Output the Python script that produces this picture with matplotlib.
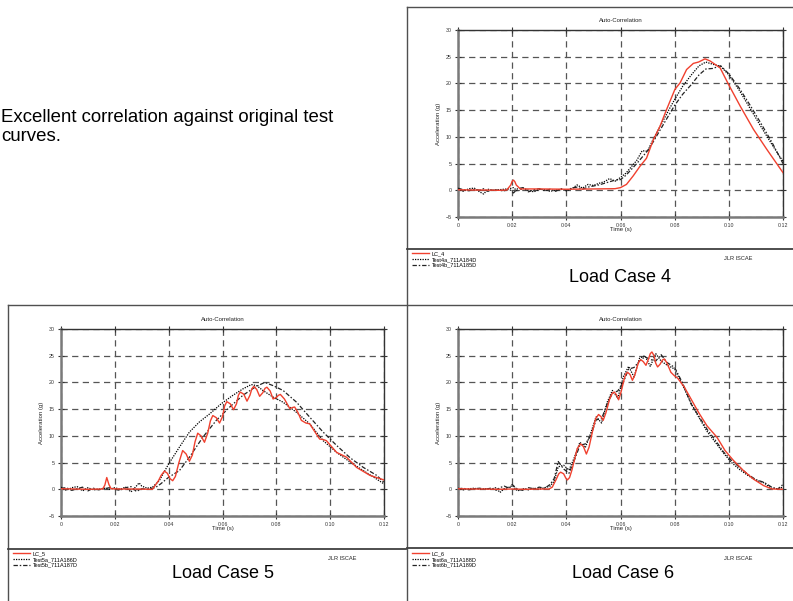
import matplotlib.pyplot as plt
import numpy as np

plt.rcParams['font.family'] = ['Liberation Sans', 'DejaVu Sans']

W, H = 793, 601

# ---- Load Case 4 ----
t_lc4 = [0, 0.005, 0.01, 0.015, 0.018, 0.0195, 0.0200, 0.0205, 0.0210, 0.0215, 0.023, 0.03, 0.04,
         0.05, 0.058, 0.06, 0.0622, 0.0647, 0.0672, 0.0696, 0.072, 0.0746, 0.077, 0.0801, 0.082,
         0.0844, 0.0869, 0.0888, 0.0912, 0.0931, 0.0968, 0.0999, 0.1042, 0.1091, 0.1141, 0.12]
y_lc4 = [0.1, 0.05, 0.05, 0.0, 0.05, 1.0, 1.7, 1.9, 1.6, 1.0, 0.25, 0.25, 0.2,
         0.25, 0.3, 0.5, 1.1, 2.7, 4.5, 6.0, 9.3, 12.0, 15.1, 18.9, 20.1,
         22.6, 23.75, 24.0, 24.6, 24.2, 22.9, 19.8, 15.75, 11.4, 7.6, 3.3]

t_test4 = [0, 0.002, 0.004, 0.006, 0.008, 0.0095, 0.011, 0.013, 0.015, 0.017, 0.019, 0.0205, 0.022,
           0.024, 0.026, 0.028, 0.030, 0.032, 0.034, 0.036, 0.038, 0.040, 0.042, 0.044, 0.046, 0.048,
           0.050, 0.052, 0.054, 0.056, 0.058, 0.060, 0.062, 0.064, 0.066, 0.068, 0.070, 0.072, 0.075,
           0.078, 0.080, 0.083, 0.086, 0.089, 0.0915, 0.094, 0.097, 0.100, 0.104, 0.108, 0.112, 0.116, 0.12]
y_test4a = [0.3, -0.2, 0.3, 0.4, -0.3, -0.7, 0.2, 0.0, 0.1, 0.2, 0.3, 0.5, -0.2,
            0.4, 0.0, -0.3, 0.2, 0.1, -0.2, 0.0, 0.2, -0.1, 0.3, 1.0, 0.4, 1.1,
            0.9, 1.3, 1.6, 2.2, 1.7, 2.4, 3.2, 4.4, 5.6, 7.4, 7.3, 9.5, 12.3,
            15.2, 17.0, 19.5, 21.5, 23.3, 24.0, 23.6, 23.2, 21.6, 18.6, 15.2, 11.8, 8.5, 5.4]
y_test4b = [0.4, 0.1, -0.1, 0.2, 0.0, 0.3, -0.2, 0.1, 0.0, -0.1, 0.2, -0.5, 0.3,
            0.5, -0.3, 0.1, 0.3, -0.1, 0.2, -0.2, 0.3, 0.0, 0.4, 0.6, 0.2, 0.6,
            0.8, 1.0, 1.3, 1.6, 1.9, 2.0, 2.8, 3.9, 5.0, 6.2, 7.4, 9.0, 11.6,
            14.2, 15.9, 18.0, 19.7, 21.6, 22.7, 22.8, 23.3, 21.8, 19.0, 15.8, 12.4, 8.9, 5.0]

# ---- Load Case 5 ----
t_lc5 = [0, 0.005, 0.01, 0.0155, 0.0163, 0.0170, 0.0178, 0.0186, 0.022, 0.028, 0.034, 0.0362,
         0.0372, 0.0384, 0.0395, 0.0405, 0.0415, 0.0425, 0.0438, 0.0452, 0.0465, 0.0477, 0.0488,
         0.0498, 0.0508, 0.0520, 0.0533, 0.0545, 0.0555, 0.0564, 0.0577, 0.0589, 0.0600, 0.0608,
         0.0616, 0.0629, 0.0641, 0.0652, 0.0659, 0.0666, 0.0679, 0.0691, 0.0702, 0.0709, 0.0716,
         0.0727, 0.0738, 0.0750, 0.0758, 0.0765, 0.0777, 0.0788, 0.0800, 0.0808, 0.0815, 0.0830,
         0.0850, 0.0860, 0.0868, 0.0880, 0.0893, 0.0910, 0.0924, 0.0940, 0.0961, 0.0975, 0.0986,
         0.1005, 0.1024, 0.1045, 0.1061, 0.1098, 0.1148, 0.12]
y_lc5 = [0.1, 0.05, 0.0, 0.05, 0.8, 2.2, 0.9, 0.1, 0.05, 0.05, 0.0, 1.6,
         2.6, 3.4, 3.0, 2.0, 1.6, 2.4, 5.0, 7.25, 6.6, 5.25, 6.4,
         8.9, 10.5, 10.0, 8.8, 10.5, 12.8, 13.8, 13.4, 12.4, 13.6, 15.6,
         16.4, 16.0, 14.9, 16.0, 17.6, 18.2, 17.8, 16.5, 17.6, 18.8, 19.25,
         18.7, 17.4, 18.1, 18.9, 19.1, 18.4, 16.9, 17.2, 17.6, 17.75, 16.9,
         15.1, 15.3, 15.4, 14.4, 12.9, 12.4, 12.25, 11.0, 9.4, 9.3, 9.1,
         8.0, 6.9, 6.4, 6.0, 4.1, 2.6, 1.75]

t_test5a = [0, 0.002, 0.004, 0.006, 0.008, 0.010, 0.012, 0.014, 0.016, 0.018, 0.020, 0.022, 0.024,
            0.026, 0.028, 0.029, 0.030, 0.032, 0.034, 0.0365, 0.040, 0.044, 0.0477, 0.0514, 0.0552,
            0.0595, 0.0639, 0.0676, 0.0707, 0.0727, 0.075, 0.0788, 0.0825, 0.0875, 0.0924, 0.0974,
            0.1024, 0.1074, 0.1123, 0.1173, 0.12]
y_test5a = [0.4, -0.2, 0.3, 0.5, -0.3, 0.3, -0.1, 0.0, 0.2, 0.0, 0.3, 0.0, 0.4,
            -0.5, 0.6, 1.2, 0.6, 0.2, 0.4, 1.6, 4.75, 7.9, 10.7, 12.6, 14.1,
            16.0, 17.6, 18.8, 19.6, 19.4, 18.5, 17.25, 16.3, 14.4, 12.25, 9.1,
            6.9, 5.1, 3.5, 1.9, 1.0]

t_test5b = [0, 0.002, 0.004, 0.006, 0.008, 0.010, 0.012, 0.014, 0.016, 0.018, 0.020, 0.022, 0.024,
            0.026, 0.028, 0.030, 0.032, 0.035, 0.037, 0.040, 0.044, 0.0477, 0.0527, 0.0577, 0.0627,
            0.0676, 0.0725, 0.0757, 0.0788, 0.0825, 0.0875, 0.0924, 0.0974, 0.1024, 0.1074, 0.1123,
            0.1173, 0.12]
y_test5b = [0.2, 0.3, -0.2, 0.1, 0.4, -0.3, 0.2, -0.1, 0.1, 0.3, 0.0, -0.2, 0.3,
            0.5, -0.4, 0.1, 0.0, 0.3, 1.0, 2.25, 3.5, 6.0, 9.75, 12.9, 15.4,
            17.6, 19.25, 20.0, 19.4, 18.5, 16.3, 13.5, 10.7, 8.2, 5.9, 4.1,
            2.6, 1.3]

# ---- Load Case 6 ----
t_lc6 = [0, 0.005, 0.01, 0.015, 0.02, 0.025, 0.03, 0.0336, 0.0348, 0.0362, 0.0372, 0.0379, 0.0390,
         0.0398, 0.0404, 0.0412, 0.0420, 0.0428, 0.0440, 0.0453, 0.0463, 0.0474, 0.0484, 0.0496,
         0.0508, 0.0519, 0.0528, 0.0536, 0.0546, 0.0560, 0.0570, 0.0577, 0.0585, 0.0593, 0.0602,
         0.0614, 0.0620, 0.0626, 0.0635, 0.0644, 0.0653, 0.0663, 0.0669, 0.0675, 0.0684, 0.0694,
         0.0704, 0.0710, 0.0716, 0.0724, 0.0730, 0.0737, 0.0746, 0.0755, 0.0762, 0.0772, 0.0786,
         0.0798, 0.0811, 0.0836, 0.0867, 0.0888, 0.0919, 0.0956, 0.0986, 0.1017, 0.1054, 0.1091,
         0.1128, 0.1159, 0.12]
y_lc6 = [0.1, 0.05, 0.05, 0.0, 0.05, 0.0, 0.05, 0.05, 0.4, 1.8, 2.9, 3.2, 2.9,
         2.1, 1.75, 2.2, 3.5, 5.1, 7.6, 8.5, 8.0, 6.6, 7.9, 10.7,
         13.2, 14.0, 13.6, 12.9, 14.3, 16.9, 18.0, 18.2, 17.7, 16.75, 18.2,
         20.7, 21.6, 21.9, 21.5, 20.4, 21.4, 23.2, 24.0, 24.25, 23.9, 23.2,
         24.5, 25.4, 25.7, 25.0, 23.6, 22.9, 23.4, 24.2, 24.4, 23.6, 21.9,
         21.3, 20.8, 19.1, 16.3, 14.4, 11.9, 9.75, 7.25, 5.4, 3.5, 1.9,
         0.7, 0.06, 0.0]

t_test6 = [0, 0.002, 0.004, 0.006, 0.008, 0.010, 0.012, 0.014, 0.0155, 0.017, 0.019, 0.020, 0.022,
           0.024, 0.026, 0.028, 0.030, 0.032, 0.034, 0.0355, 0.037, 0.039, 0.041, 0.043, 0.045,
           0.047, 0.049, 0.051, 0.053, 0.055, 0.057, 0.059, 0.061, 0.063, 0.065, 0.067, 0.069,
           0.071, 0.073, 0.075, 0.077, 0.080, 0.083, 0.086, 0.089, 0.092, 0.095, 0.098, 0.101,
           0.104, 0.107, 0.110, 0.113, 0.1155, 0.118, 0.12]
y_test6a = [0.2, -0.1, 0.1, 0.2, 0.0, 0.1, 0.0, 0.3, -0.6, 0.1, 0.4, 0.7, -0.3,
            0.1, -0.1, 0.2, 0.0, 0.3, 0.6, 1.5, 4.2, 4.5, 3.6, 6.0, 8.8,
            7.8, 10.5, 13.6, 12.4, 16.2, 18.5, 17.0, 21.0, 23.0, 21.0, 24.5, 25.0,
            23.0, 25.4, 24.0, 23.3, 22.5, 19.4, 16.2, 13.4, 10.8, 8.8, 6.8, 5.0,
            3.7, 2.6, 1.7, 1.2, 0.2, 0.1, 0.4]
y_test6b = [0.1, 0.2, -0.1, 0.1, 0.2, 0.0, 0.2, -0.2, 0.3, 0.6, 0.2, 0.9, 0.0,
            -0.2, 0.3, 0.1, 0.4, 0.2, 0.9, 2.0, 5.2, 3.8, 3.0, 5.5, 8.2,
            8.5, 10.0, 13.0, 13.2, 15.8, 18.0, 18.4, 20.0, 22.5, 22.8, 24.0, 24.8,
            24.3, 24.0, 25.2, 23.8, 22.8, 19.8, 16.0, 13.6, 11.2, 9.2, 7.0, 5.4,
            4.1, 2.8, 1.8, 1.3, 0.5, 0.0, 0.9]

x_ticks = [0, 0.02, 0.04, 0.06, 0.08, 0.10, 0.12]
x_tick_labels = ['0', '0.02', '0.04', '0.06', '0.08', '0.10', '0.12']
y_ticks = [-5, 0, 5, 10, 15, 20, 25, 30]
y_tick_labels = ['\u22125', '0', '5', '10', '15', '20', '25', '30']

RED = '#f0402e'
DASHDOT = (0, (3.5, 1.5, 1.2, 1.5))

fig = plt.figure(figsize=(W / 100, H / 100), dpi=100)

# background layer in pixel coordinates for frames and free text
bg = fig.add_axes([0, 0, 1, 1])
bg.set_xlim(0, W)
bg.set_ylim(H, 0)
bg.axis('off')

frame_kw = dict(color='#505050', lw=1.0)
bg.plot([407, 793], [7, 7], **frame_kw)
bg.plot([407, 407], [7, 601], **frame_kw)
bg.plot([8, 793], [305, 305], **frame_kw)
bg.plot([8, 8], [305, 601], **frame_kw)
div_kw = dict(color='#404040', lw=1.3)
bg.plot([407, 793], [249, 249], **div_kw)
bg.plot([8, 406], [549, 549], **div_kw)
bg.plot([407, 793], [548, 548], **div_kw)

bg.text(1, 122, 'Excellent correlation against original test', fontsize=13.4, va='baseline')
bg.text(1, 141, 'curves.', fontsize=13.4, va='baseline')


def make_panel(x0, y0, x1, y1, series, labels, case_name, legend_xy, jlr_xy, case_xy):
    ax = fig.add_axes([x0 / W, 1 - y1 / H, (x1 - x0) / W, (y1 - y0) / H])
    (t_r, y_r), (t_a, y_a), (t_b, y_b) = series
    ax.plot(t_r, y_r, color=RED, lw=1.0, label=labels[0], zorder=4)
    ax.plot(t_a, y_a, color='black', lw=0.9, ls=(0, (1, 1)), label=labels[1], zorder=3)
    ax.plot(t_b, y_b, color='#222222', lw=0.9, ls=DASHDOT, label=labels[2], zorder=3)
    ax.set_xlim(0, 0.12)
    ax.set_ylim(-5, 30)
    ax.set_xticks(x_ticks)
    ax.set_xticklabels(x_tick_labels)
    ax.set_yticks(y_ticks)
    ax.set_yticklabels(y_tick_labels)
    ax.grid(True, ls=(0, (5, 3.5)), color='#555555', lw=0.9)
    ax.tick_params(direction='inout', length=5, width=0.8, labelsize=3.8, colors='#333333',
                   top=True, right=True, pad=2)
    for s in ('left', 'bottom'):
        ax.spines[s].set_linewidth(1.8)
        ax.spines[s].set_color('#7a7a7a')
    for s in ('top', 'right'):
        ax.spines[s].set_linewidth(1.0)
        ax.spines[s].set_color('#333333')
    ax.set_title('Auto-Correlation', fontsize=4.3, pad=6, color='#222222')
    ax.set_xlabel('Time (s)', fontsize=4.3, labelpad=-1, color='#222222')
    ax.set_ylabel('Acceleration (g)', fontsize=4.3, labelpad=3, color='#222222')
    ax.legend(loc='upper left', bbox_to_anchor=(legend_xy[0] / W, 1 - legend_xy[1] / H),
              bbox_transform=fig.transFigure, frameon=False, fontsize=4.0,
              handlelength=3.0, handletextpad=0.5, labelspacing=0.15,
              borderpad=0, borderaxespad=0)
    bg.text(jlr_xy[0], jlr_xy[1], 'JLR ISCAE', fontsize=4.1, ha='center', va='center', color='#222222')
    bg.text(case_xy[0], case_xy[1], case_name, fontsize=13, ha='center', va='center')
    return ax


make_panel(458, 30, 783, 217,
           [(t_lc4, y_lc4), (t_test4, y_test4a), (t_test4, y_test4b)],
           ['LC_4', 'Test4a_711A184D', 'Test4b_711A185D'],
           'Load Case 4', (412, 251), (738, 259), (620, 277))

make_panel(61, 329, 384, 516,
           [(t_lc5, y_lc5), (t_test5a, y_test5a), (t_test5b, y_test5b)],
           ['LC_5', 'Test5a_711A186D', 'Test5b_711A187D'],
           'Load Case 5', (13, 551), (342, 558), (223, 574))

make_panel(458, 329, 783, 516,
           [(t_lc6, y_lc6), (t_test6, y_test6a), (t_test6, y_test6b)],
           ['LC_6', 'Test6a_711A188D', 'Test6b_711A189D'],
           'Load Case 6', (412, 551), (738, 558), (623, 574))

fig.savefig('out.png', dpi=100)
